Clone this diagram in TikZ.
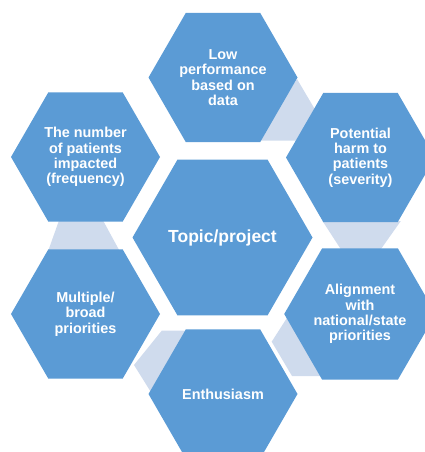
\documentclass[tikz,border=0pt]{standalone}
\usepackage{fontspec}
\setmainfont{Liberation Sans}
\usetikzlibrary{shapes.geometric}
\definecolor{hexblue}{RGB}{91,155,213}
\definecolor{hexpale}{RGB}{207,219,237}
\begin{document}
\begin{tikzpicture}
[x=1pt,y=-1pt,
  hexdecorate/.style={regular polygon,regular polygon sides=6,minimum size=149pt,
    inner sep=0pt,fill=hexblue,text=white,align=center,
    font=\fontsize{14.4}{15.3}\selectfont\bfseries},%
  topicdecorate/.style={hexdecorate,minimum size=180pt,
    font=\fontsize{17.5}{20}\selectfont\bfseries},%
  linkdecorate/.style={fill=hexpale}]
\useasboundingbox (0,0) rectangle (425,452);
\clip (0,0) rectangle (425,452);
%% pale links between the outer hexagons
\fill[linkdecorate] (297,79) -- (320,118) -- (310,140.5) -- (256,140.5) -- cycle;
\fill[linkdecorate] (322.5,221) -- (400.8,221) -- (380.3,250) -- (341.3,250) -- cycle;
\fill[linkdecorate] (292,310) -- (330,376) -- (292,376) -- (271.7,341.7) -- cycle;
\fill[linkdecorate] (161.7,330.7) -- (195,330.7) -- (158,403.5) -- (134,365) -- cycle;
\fill[linkdecorate] (58.8,221) -- (103.3,221) -- (119.1,250) -- (48.5,250) -- cycle;
%% hexagons
\node (topic) at (222.5,237.5) [topicdecorate] {Topic/project};
\foreach \nodename/\x/\y/\hextext in {
  low/223/77.5/{Low\\performance\\based on\\data},
  harm/360.5/157.5/{Potential\\harm to\\patients\\(severity)},
  align/360/314/{Alignment\\with\\national/state\\priorities},
  enthus/223/394/{Enthusiasm},
  multi/85.5/314/{Multiple/\\broad\\priorities},
  number/85.5/157/{The number\\of patients\\impacted\\(frequency)}} {
  \node (\nodename) at (\x,\y) [hexdecorate] {\hextext};
}
\end{tikzpicture}
\end{document}
